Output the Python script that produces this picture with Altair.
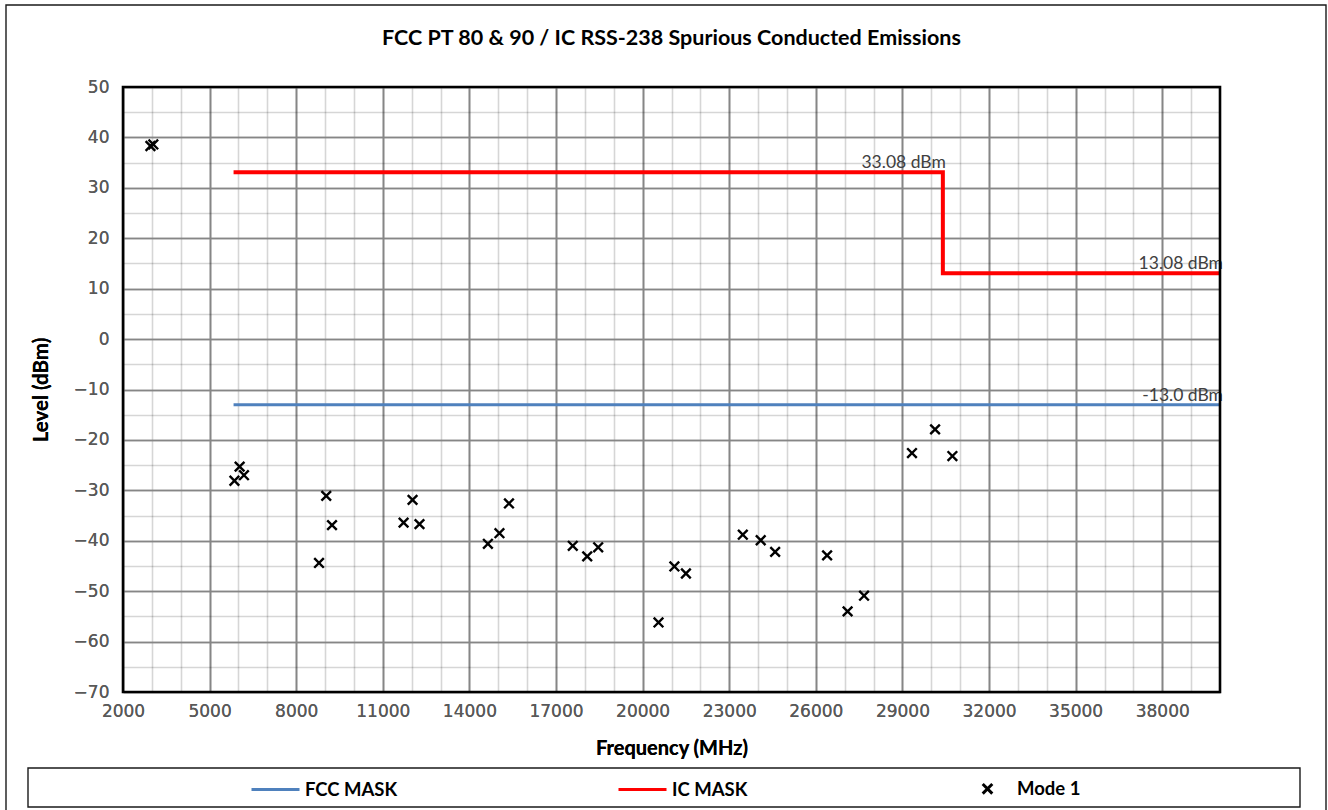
import altair as alt
import pandas as pd

# Mode 1 conducted spurious emission readings (MHz, dBm)
mode1_freq = [2950, 3050, 5860, 6040, 6190, 8790, 9040, 9240, 11720, 12030, 12270,
              14640, 15040, 15370, 17580, 18080, 18460, 20550, 21100, 21500,
              23470, 24090, 24590, 26390, 27100, 27670, 29330, 30130, 30730]
mode1_level = [38.3, 38.6, -28.1, -25.3, -27.0, -44.4, -31.1, -36.9, -36.4, -31.9, -36.7,
               -40.6, -38.5, -32.6, -41.0, -43.1, -41.3, -56.2, -45.1, -46.5,
               -38.8, -39.9, -42.2, -42.9, -54.0, -50.9, -22.6, -17.9, -23.2]

# Limit masks
fcc_freq = [5830, 40000]
fcc_level = [-13.0, -13.0]
ic_freq = [5830, 30400, 30400, 40000]
ic_level = [33.08, 33.08, 13.08, 13.08]

# Mask level annotations
mask_label_text = ["33.08 dBm", "13.08 dBm", "-13.0 dBm"]
mask_label_freq = [30400, 40000, 40000]
mask_label_level = [33.08, 13.08, -13.0]

series_names = ["FCC MASK", "IC MASK", "Mode 1"]
series_colors = ["#4F81BD", "#FF0000", "#000000"]
# thin "x" marker, drawn in the symbol's unit square
x_marker = "M-0.2,-0.2L0.2,0.2M-0.2,0.2L0.2,-0.2"
series_shapes = ["stroke", "stroke", x_marker]

x_major = list(range(2000, 38001, 3000))
x_minor = [v for v in range(3000, 40000, 1000) if (v - 2000) % 3000 != 0]
y_major = list(range(-70, 51, 10))
y_minor = list(range(-65, 50, 10))

W, H = 1097, 605

fcc_df = pd.DataFrame({"freq": fcc_freq, "level": fcc_level,
                       "series": series_names[0], "idx": range(len(fcc_freq))})
ic_df = pd.DataFrame({"freq": ic_freq, "level": ic_level,
                      "series": series_names[1], "idx": range(len(ic_freq))})
mode_df = pd.DataFrame({"freq": mode1_freq, "level": mode1_level,
                        "series": series_names[2]})
label_df = pd.DataFrame({"freq": mask_label_freq, "level": mask_label_level,
                         "text": mask_label_text})
box_df = pd.DataFrame({"k": [0]})

x_scale = alt.Scale(domain=[2000, 40000], nice=False, zero=False)
y_scale = alt.Scale(domain=[-70, 50], nice=False, zero=False)
color_scale = alt.Scale(domain=series_names, range=series_colors)
shape_scale = alt.Scale(domain=series_names, range=series_shapes)

legend = alt.Legend(
    title=None, orient="none", legendX=127, legendY=676,
    direction="horizontal", columns=3, columnPadding=214,
    symbolSize=2304, symbolStrokeWidth=3, padding=0, labelOffset=4,
    labelFont="Lato", labelFontSize=18.5, labelFontWeight="bold",
    labelColor="black", labelLimit=300,
)

x_axis_major = alt.Axis(
    orient="bottom", values=x_major, format="d", grid=True,
    gridColor="#868686", gridWidth=1.6, ticks=False, domain=False,
    labelFont="DejaVu Sans", labelFontSize=17, labelColor="#595959",
    labelPadding=11, labelFlush=False, labelOverlap=False,
    title="Frequency (MHz)", titleFont="Lato", titleFontSize=20,
    titleFontWeight="bold", titleColor="black",
    titleX=W / 2, titleY=56, titleBaseline="middle", titleAlign="center",
)
y_axis_major = alt.Axis(
    orient="left", values=y_major, format="d", grid=True,
    gridColor="#868686", gridWidth=1.6, ticks=False, domain=False,
    labelFont="DejaVu Sans", labelFontSize=17, labelColor="#595959",
    labelPadding=14, labelFlush=False, labelOverlap=False,
    title="Level (dBm)", titleFont="Lato", titleFontSize=20.5,
    titleFontWeight="bold", titleColor="black",
    titleX=-82, titleY=H / 2, titleAngle=270,
    titleBaseline="middle", titleAlign="center",
)
x_axis_minor = alt.Axis(orient="top", values=x_minor, grid=True,
                        gridColor="black", gridOpacity=0.16, gridWidth=1.6,
                        labels=False, ticks=False, domain=False, title=None)
y_axis_minor = alt.Axis(orient="right", values=y_minor, grid=True,
                        gridColor="black", gridOpacity=0.16, gridWidth=1.6,
                        labels=False, ticks=False, domain=False, title=None)

mode_layer = alt.Chart(mode_df).mark_point(
    filled=False, size=2304, strokeWidth=2.4, opacity=1
).encode(
    x=alt.X("freq:Q", scale=x_scale, axis=x_axis_minor),
    y=alt.Y("level:Q", scale=y_scale, axis=y_axis_minor),
    color=alt.Color("series:N", scale=color_scale, legend=legend),
    shape=alt.Shape("series:N", scale=shape_scale, legend=legend),
)

fcc_layer = alt.Chart(fcc_df).mark_line(strokeWidth=3).encode(
    x=alt.X("freq:Q", scale=x_scale, axis=x_axis_major),
    y=alt.Y("level:Q", scale=y_scale, axis=y_axis_major),
    color=alt.Color("series:N", scale=color_scale, legend=legend),
    order=alt.Order("idx:Q"),
)

ic_layer = alt.Chart(ic_df).mark_line(strokeWidth=4, strokeJoin="miter").encode(
    x=alt.X("freq:Q", scale=x_scale, axis=x_axis_major),
    y=alt.Y("level:Q", scale=y_scale, axis=y_axis_major),
    color=alt.Color("series:N", scale=color_scale, legend=legend),
    order=alt.Order("idx:Q"),
)

label_layer = alt.Chart(label_df).mark_text(
    align="right", baseline="alphabetic", dx=3, dy=-4,
    font="Lato", fontSize=17.5, color="#404040",
).encode(
    x=alt.X("freq:Q", scale=x_scale, axis=None),
    y=alt.Y("level:Q", scale=y_scale, axis=None),
    text="text:N",
)

# plot-area frame, legend box and outer chart border
frame = alt.Chart(box_df).mark_rect(fillOpacity=0, stroke="black", strokeWidth=2.6).encode(
    x=alt.value(0), x2=alt.value(W), y=alt.value(0), y2=alt.value(H)
)
legend_box = alt.Chart(box_df).mark_rect(fillOpacity=0, stroke="#1a1a1a", strokeWidth=1.4).encode(
    x=alt.value(-95), x2=alt.value(1177), y=alt.value(681), y2=alt.value(720)
)
outer_box = alt.Chart(box_df).mark_rect(fillOpacity=0, stroke="#1a1a1a", strokeWidth=1.4).encode(
    x=alt.value(-117), x2=alt.value(1203), y=alt.value(-82), y2=alt.value(740)
)

chart = alt.layer(
    mode_layer, fcc_layer, ic_layer, label_layer, frame, legend_box, outer_box
).properties(
    width=W, height=H,
    title=alt.TitleParams(
        "FCC PT 80 & 90 / IC RSS-238 Spurious Conducted Emissions",
        font="Lato", fontSize=21.5, fontWeight="bold", color="black",
        anchor="middle", frame="group", offset=-45,
    ),
    padding={"left": 123, "top": 87, "right": 108, "bottom": 118},
    autosize=alt.AutoSizeParams(type="none"),
).configure(background="white").configure_view(stroke=None)

chart.save("out.html", embed_options={"renderer": "svg", "actions": False})
